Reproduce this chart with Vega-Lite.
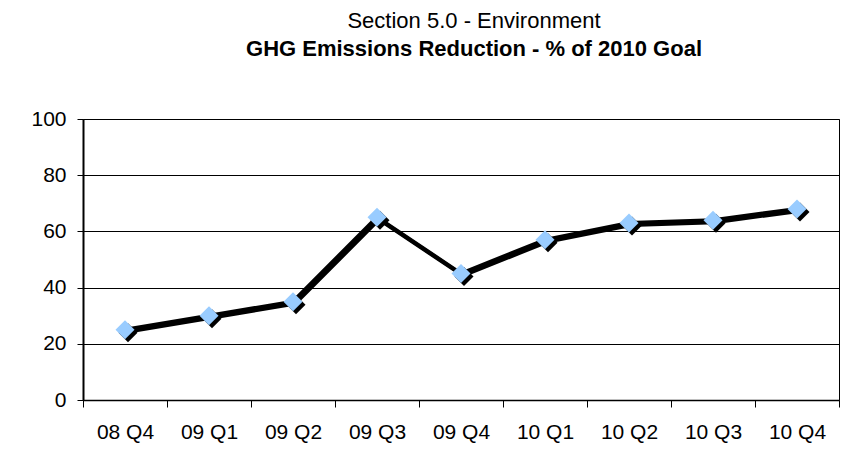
{
  "$schema": "https://vega.github.io/schema/vega-lite/v6.json",
  "width": 756,
  "height": 281,
  "autosize": {"type": "none"},
  "padding": {"left": 83, "top": 119, "right": 6, "bottom": 70},
  "background": "white",
  "title": {
    "text": "Section 5.0  - Environment",
    "subtitle": "GHG Emissions Reduction - % of 2010 Goal",
    "anchor": "middle",
    "dx": 13,
    "offset": 47,
    "font": "Liberation Sans",
    "fontSize": 22,
    "fontWeight": "normal",
    "color": "black",
    "subtitleFont": "Liberation Sans",
    "subtitleFontSize": 22,
    "subtitleFontWeight": "bold",
    "subtitleColor": "black",
    "subtitlePadding": 6
  },
  "config": {
    "view": {"stroke": "black", "strokeWidth": 1},
    "font": "Liberation Sans"
  },
  "data": {
    "values": [
      {"q": "08 Q4", "v": 25},
      {"q": "09 Q1", "v": 30},
      {"q": "09 Q2", "v": 35},
      {"q": "09 Q3", "v": 65},
      {"q": "09 Q4", "v": 45},
      {"q": "10 Q1", "v": 57},
      {"q": "10 Q2", "v": 63},
      {"q": "10 Q3", "v": 64},
      {"q": "10 Q4", "v": 68}
    ]
  },
  "encoding": {
    "x": {
      "field": "q",
      "type": "ordinal",
      "sort": null,
      "scale": {"paddingInner": 0, "paddingOuter": 0},
      "axis": {
        "title": null,
        "labelAngle": 0,
        "labelFont": "Liberation Sans",
        "labelFontSize": 21,
        "labelColor": "black",
        "labelPadding": 14,
        "tickBand": "extent",
        "tickColor": "black",
        "tickSize": 7,
        "domainColor": "black",
        "domainWidth": 1.5,
        "grid": false
      }
    },
    "y": {
      "field": "v",
      "type": "quantitative",
      "scale": {"domain": [0, 100], "nice": false},
      "axis": {
        "title": null,
        "values": [0, 20, 40, 60, 80, 100],
        "labelFont": "Liberation Sans",
        "labelFontSize": 21,
        "labelColor": "black",
        "labelPadding": 11,
        "tickColor": "black",
        "tickSize": 6,
        "domainColor": "black",
        "domainWidth": 2,
        "grid": true,
        "gridColor": "black",
        "gridWidth": 1
      }
    }
  },
  "layer": [
    {"mark": {"type": "line", "color": "black", "strokeWidth": 4, "xOffset": 2, "yOffset": 2}},
    {"mark": {"type": "line", "color": "black", "strokeWidth": 4}},
    {"mark": {"type": "point", "shape": "diamond", "filled": true, "size": 360, "color": "black", "opacity": 1, "xOffset": 3, "yOffset": 3}},
    {"mark": {"type": "point", "shape": "diamond", "filled": true, "size": 360, "color": "#99CCFF", "opacity": 1}}
  ]
}
